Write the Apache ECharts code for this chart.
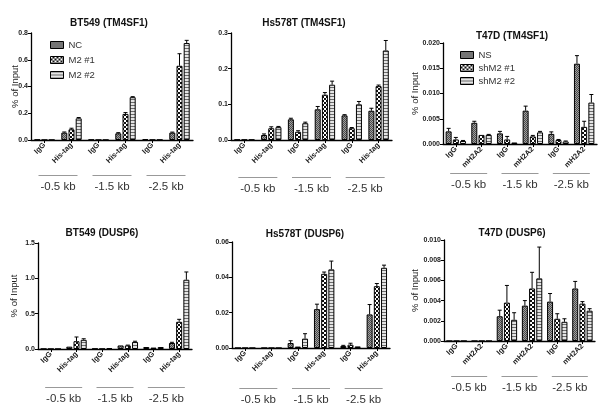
<!DOCTYPE html>
<html><head><meta charset="utf-8">
<script src="https://cdn.jsdelivr.net/npm/echarts@6/dist/echarts.min.js"></script>
<style>html,body{margin:0;padding:0;background:#fff}#c{width:607px;height:411px}</style>
</head><body><div id="c"></div>
<script>
// ---------- DATA ----------
const catsHis = ['IgG','His-tag','IgG','His-tag','IgG','His-tag'];
const catsH2A = ['IgG','mH2A2','IgG','mH2A2','IgG','mH2A2'];
const groups = ['-0.5 kb','-1.5 kb','-2.5 kb'];
const namesM2 = ['NC','M2 #1','M2 #2'];
const namesSh = ['NS','shM2 #1','shM2 #2'];
const titles = ['BT549 (TM4SF1)','Hs578T (TM4SF1)','T47D (TM4SF1)','BT549 (DUSP6)','Hs578T (DUSP6)','T47D (DUSP6)'];

// Panel 1: BT549 (TM4SF1)
const bt549TmNC = [0.003,0.055,0.003,0.05,0.006,0.055];
const bt549TmM1 = [0.001,0.08,0.001,0.195,0.002,0.555];
const bt549TmM2 = [0.001,0.162,0.001,0.32,0.002,0.725];
const bt549TmNCerr = [0,0.005,0,0.005,0,0.004];
const bt549TmM1err = [0,0.008,0,0.01,0,0.09];
const bt549TmM2err = [0,0.006,0,0.004,0,0.02];
// Panel 2: Hs578T (TM4SF1)
const hs578TmNC = [0.001,0.014,0.058,0.086,0.069,0.082];
const hs578TmM1 = [0.001,0.033,0.023,0.127,0.033,0.151];
const hs578TmM2 = [0.001,0.036,0.047,0.155,0.100,0.251];
const hs578TmNCerr = [0,0.003,0.003,0.008,0.002,0.007];
const hs578TmM1err = [0,0.004,0.003,0.006,0.002,0.003];
const hs578TmM2err = [0,0.002,0.003,0.01,0.008,0.028];
// Panel 3: T47D (TM4SF1)
const t47dTmNS = [0.0025,0.0042,0.0021,0.0066,0.002,0.0159];
const t47dTmS1 = [0.0009,0.0018,0.0009,0.0015,0.0008,0.0034];
const t47dTmS2 = [0.0006,0.0018,0.0003,0.0023,0.0005,0.0082];
const t47dTmNSerr = [0.0006,0.0003,0.0004,0.0009,0.0004,0.0016];
const t47dTmS1err = [0.0004,0,0.0006,0.0002,0.0001,0.0011];
const t47dTmS2err = [0.0001,0.0001,0,0.0002,0.0001,0.0016];
// Panel 4: BT549 (DUSP6)
const bt549DuNC = [0.002,0.033,0.005,0.05,0.028,0.085];
const bt549DuM1 = [0.001,0.11,0.003,0.05,0.02,0.385];
const bt549DuM2 = [0.001,0.13,0.012,0.10,0.028,0.98];
const bt549DuNCerr = [0,0,0,0,0,0.01];
const bt549DuM1err = [0,0.06,0,0.005,0,0.035];
const bt549DuM2err = [0,0.015,0,0.01,0,0.11];
// Panel 5: Hs578T (DUSP6)
const hs578DuNC = [0,0,0.0028,0.022,0.0011,0.019];
const hs578DuM1 = [0,0,0.0008,0.042,0.0019,0.035];
const hs578DuM2 = [0,0,0.0053,0.0445,0.0009,0.0454];
const hs578DuNCerr = [0,0,0.0013,0.0028,0.0004,0.0056];
const hs578DuM1err = [0,0,0,0.001,0.0008,0.0015];
const hs578DuM2err = [0,0,0.0028,0.0047,0,0.0015];
// Panel 6: T47D (DUSP6)
const t47dDuNS = [0,0,0.00245,0.0035,0.0039,0.0052];
const t47dDuS1 = [0,0,0.0038,0.0052,0.0022,0.0037];
const t47dDuS2 = [0,0,0.0021,0.0062,0.0019,0.003];
const t47dDuNSerr = [0,0,0.0006,0.0005,0.0008,0.0007];
const t47dDuS1err = [0,0,0.0017,0.0016,0.0005,0.0002];
const t47dDuS2err = [0,0,0.0007,0.0031,0.0003,0.0002];

// y-axis scales
const yMax = [0.8,0.3,0.02,1.5,0.06,0.01];
const yStep = [0.2,0.1,0.005,0.5,0.02,0.002];
const yDec = [1,1,3,1,2,3];

// ---------- LAYOUT / STYLE ----------
const panels = [
  {cats:catsHis, names:namesM2, vals:[bt549TmNC,bt549TmM1,bt549TmM2], errs:[bt549TmNCerr,bt549TmM1err,bt549TmM2err],
   grid:{left:31,top:33,width:162,height:107}, title:[104,13], yname:true, nameGap:11, grpMargin:35},
  {cats:catsHis, names:namesM2, vals:[hs578TmNC,hs578TmM1,hs578TmM2], errs:[hs578TmNCerr,hs578TmM1err,hs578TmM2err],
   grid:{left:231,top:33,width:161,height:107}, title:[299,13], yname:false, nameGap:15, grpMargin:37},
  {cats:catsH2A, names:namesSh, vals:[t47dTmNS,t47dTmS1,t47dTmS2], errs:[t47dTmNSerr,t47dTmS1err,t47dTmS2err],
   grid:{left:443,top:43,width:154,height:101}, title:[507,26], yname:true, nameGap:23, grpMargin:29},
  {cats:catsHis, names:namesM2, vals:[bt549DuNC,bt549DuM1,bt549DuM2], errs:[bt549DuNCerr,bt549DuM1err,bt549DuM2err],
   grid:{left:38,top:243,width:154,height:106}, title:[97,223], yname:true, nameGap:19, grpMargin:38},
  {cats:catsHis, names:namesM2, vals:[hs578DuNC,hs578DuM1,hs578DuM2], errs:[hs578DuNCerr,hs578DuM1err,hs578DuM2err],
   grid:{left:232,top:242,width:158,height:106}, title:[300,224], yname:false, nameGap:15, grpMargin:40},
  {cats:catsH2A, names:namesSh, vals:[t47dDuNS,t47dDuS1,t47dDuS2], errs:[t47dDuNSerr,t47dDuS1err,t47dDuS2err],
   grid:{left:444,top:240,width:151,height:101}, title:[507,223], yname:true, nameGap:24, grpMargin:35}
];

const FONT = '"Liberation Sans", Arial, sans-serif';
const BAR_W = 6, BAR_GAP = 1.2;

function makePattern(kind){
  const c = document.createElement('canvas');
  let ctx;
  if(kind===0){ c.width=2;c.height=2;ctx=c.getContext('2d');
    ctx.fillStyle='#a0a0a0';ctx.fillRect(0,0,2,2);
    ctx.fillStyle='#4a4a4a';ctx.fillRect(0,0,1,1);ctx.fillRect(1,1,1,1);
  } else if(kind===1){ c.width=4;c.height=4;ctx=c.getContext('2d');
    ctx.fillStyle='#111';ctx.fillRect(0,0,4,4);
    ctx.fillStyle='#fff';ctx.fillRect(0,0,2,2);ctx.fillRect(2,2,2,2);
  } else { c.width=2;c.height=3;ctx=c.getContext('2d');
    ctx.fillStyle='#e4e4e4';ctx.fillRect(0,0,2,3);
    ctx.fillStyle='#6a6a6a';ctx.fillRect(0,0,2,1);
  }
  return {image:c, repeat:'repeat'};
}
const fills = [makePattern(0),makePattern(1),makePattern(2)];

const grid=[], xAxis=[], yAxis=[], series=[], title=[];
panels.forEach((p,i)=>{
  grid.push(Object.assign({containLabel:false}, p.grid));
  title.push({text:titles[i], left:p.title[0], top:p.title[1], textAlign:'center',
    textStyle:{fontFamily:FONT,fontSize:10,fontWeight:'bold',color:'#111'}});
  const grpW = Math.round(p.grid.width/3*0.72);
  xAxis.push({type:'category', gridIndex:i, data:p.cats, boundaryGap:true,
    axisLine:{lineStyle:{color:'#000',width:1.3}},
    axisTick:{show:true,alignWithLabel:true,length:3,lineStyle:{color:'#000'}},
    axisLabel:{rotate:45,fontSize:7.5,fontWeight:'bold',color:'#222',fontFamily:FONT,margin:4,interval:0}});
  xAxis.push({type:'category', gridIndex:i, data:groups, position:'bottom',
    axisLine:{show:false}, axisTick:{show:false}, splitLine:{show:false},
    axisLabel:{margin:p.grpMargin, interval:0, fontFamily:FONT,
      formatter:v=>'{l| }\n{t|'+v+'}',
      rich:{l:{width:grpW,height:1,lineHeight:1,fontSize:1,backgroundColor:'#999'},
            t:{fontSize:11.5,lineHeight:21,color:'#333',fontFamily:FONT}}}});
  yAxis.push({type:'value', gridIndex:i, min:0, max:yMax[i], interval:yStep[i],
    name:p.yname?'% of Input':'', nameLocation:'middle', nameGap:p.nameGap, nameMoveOverlap:false,
    nameTextStyle:{fontFamily:FONT,fontSize:9.5,color:'#222'},
    axisLine:{show:true,lineStyle:{color:'#000',width:1.3}},
    axisTick:{show:true,length:3,lineStyle:{color:'#000'}},
    splitLine:{show:false},
    axisLabel:{fontSize:7,fontWeight:'bold',color:'#222',fontFamily:FONT,margin:3,
      formatter:v=>v.toFixed(yDec[i])}});
  p.vals.forEach((arr,k)=>{
    series.push({type:'bar', name:p.names[k], xAxisIndex:2*i, yAxisIndex:i, data:arr,
      barWidth:BAR_W, barGap:'20%', barCategoryGap:'40%',
      itemStyle:{color:fills[k], borderColor:'#000', borderWidth:1}, z:2, silent:true});
  });
  p.vals.forEach((arr,k)=>{
    const off = (k-1)*(BAR_W+BAR_GAP);
    const data = arr.map((v,j)=>[j, v, p.errs[k][j]]).filter(d=>d[2]>0);
    series.push({type:'custom', xAxisIndex:2*i, yAxisIndex:i, data:data, z:3, silent:true,
      encode:{x:0,y:1},
      renderItem:(params,api)=>{
        const c0 = api.coord([api.value(0), api.value(1)]);
        const c1 = api.coord([api.value(0), api.value(1)+api.value(2)]);
        const x = c0[0]+off;
        return {type:'group', children:[
          {type:'line', shape:{x1:x,y1:c0[1],x2:x,y2:c1[1]}, style:{stroke:'#000',lineWidth:1}},
          {type:'line', shape:{x1:x-2,y1:c1[1],x2:x+2,y2:c1[1]}, style:{stroke:'#000',lineWidth:1}}
        ]};
      }});
  });
});

const legendStyle = {orient:'vertical', itemWidth:13, itemHeight:7, icon:'rect',
  textStyle:{fontFamily:FONT,fontSize:9.5,color:'#333'}, itemStyle:{borderColor:'#000',borderWidth:1}};
const legend = [
  Object.assign({}, legendStyle, {data:namesM2, left:45, top:35, itemGap:5}),
  Object.assign({}, legendStyle, {data:namesSh, left:455, top:45, itemGap:3})
];

const chart = echarts.init(document.getElementById('c'), null, {renderer:'canvas'});
chart.setOption({animation:false, backgroundColor:'#fff', title, legend, grid, xAxis, yAxis, series});
</script></body></html>
